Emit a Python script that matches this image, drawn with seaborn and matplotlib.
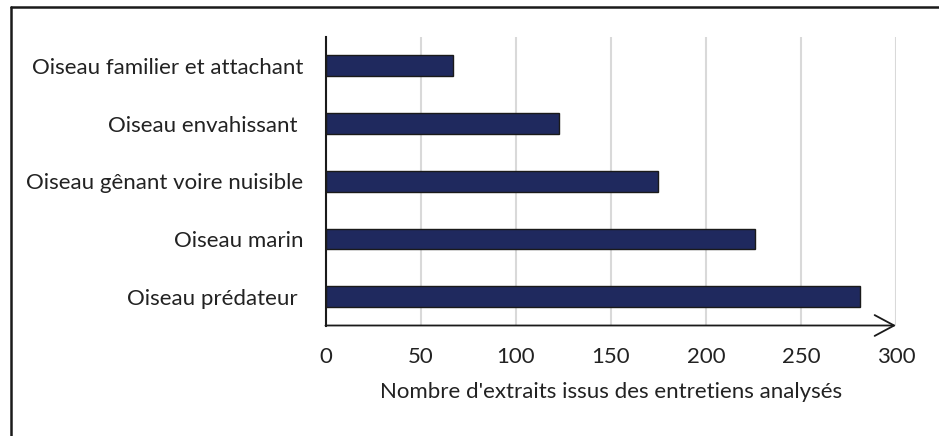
import matplotlib
matplotlib.use("Agg")
import matplotlib.pyplot as plt
from matplotlib.lines import Line2D
import pandas as pd
import seaborn as sns

categories = [
    "Oiseau familier et attachant",
    "Oiseau envahissant ",
    "Oiseau gênant voire nuisible",
    "Oiseau marin",
    "Oiseau prédateur ",
]
counts = [67, 123, 175, 226, 281]
x_ticks = [0, 50, 100, 150, 200, 250, 300]
x_label = "Nombre d'extraits issus des entretiens analysés"

sns.set_style("white")
plt.rcParams["font.family"] = ["Lato", "DejaVu Sans"]
text_color = "#222222"
font_size = 16

df = pd.DataFrame({"categorie": categories, "extraits": counts})

fig = plt.figure(figsize=(9.39, 4.36), dpi=100)
ax = fig.add_axes([325.5 / 939, 1 - 325.5 / 436, (896 - 325.5) / 939, (325.5 - 37) / 436])

sns.barplot(data=df, x="extraits", y="categorie", order=categories, orient="h",
            color="#1f295e", saturation=1, width=0.36,
            edgecolor="#1a1a1a", linewidth=1.0, ax=ax, zorder=3)

ax.set_xlim(0, 300)
ax.set_ylim(4.5, -0.5)
ax.set_xticks(x_ticks)
ax.set_xticklabels([str(t) for t in x_ticks])
ax.xaxis.grid(True, color="#d9d9d9", linewidth=1.5, zorder=0)
ax.yaxis.grid(False)
ax.set_axisbelow(True)

for side in ["top", "right", "bottom"]:
    ax.spines[side].set_visible(False)
ax.spines["left"].set_color("#1a1a1a")
ax.spines["left"].set_linewidth(1.5)
ax.spines["left"].set_zorder(4)

ax.tick_params(axis="both", length=0, labelsize=font_size, colors=text_color)
ax.tick_params(axis="x", pad=15.5)
ax.tick_params(axis="y", pad=16)
ax.set_ylabel("")
ax.set_xlabel(x_label, fontsize=font_size, color=text_color, labelpad=11)

# x axis drawn as an arrow
ax.annotate("", xy=(1.0, 0), xytext=(0, 0), xycoords="axes fraction",
            textcoords="axes fraction",
            arrowprops=dict(arrowstyle="->,head_length=1.4,head_width=0.75",
                            color="#1a1a1a", lw=1.3, shrinkA=0, shrinkB=0),
            annotation_clip=False, zorder=5)

# outer frame (top and left edges)
fig.add_artist(Line2D([10.5 / 939, 1.0], [1 - 7.5 / 436, 1 - 7.5 / 436],
                      transform=fig.transFigure, color="#1a1a1a", linewidth=1.8))
fig.add_artist(Line2D([10.5 / 939, 10.5 / 939], [1 - 7.5 / 436, 0.0],
                      transform=fig.transFigure, color="#1a1a1a", linewidth=1.8))

fig.savefig("out.png", dpi=100, facecolor="white")
